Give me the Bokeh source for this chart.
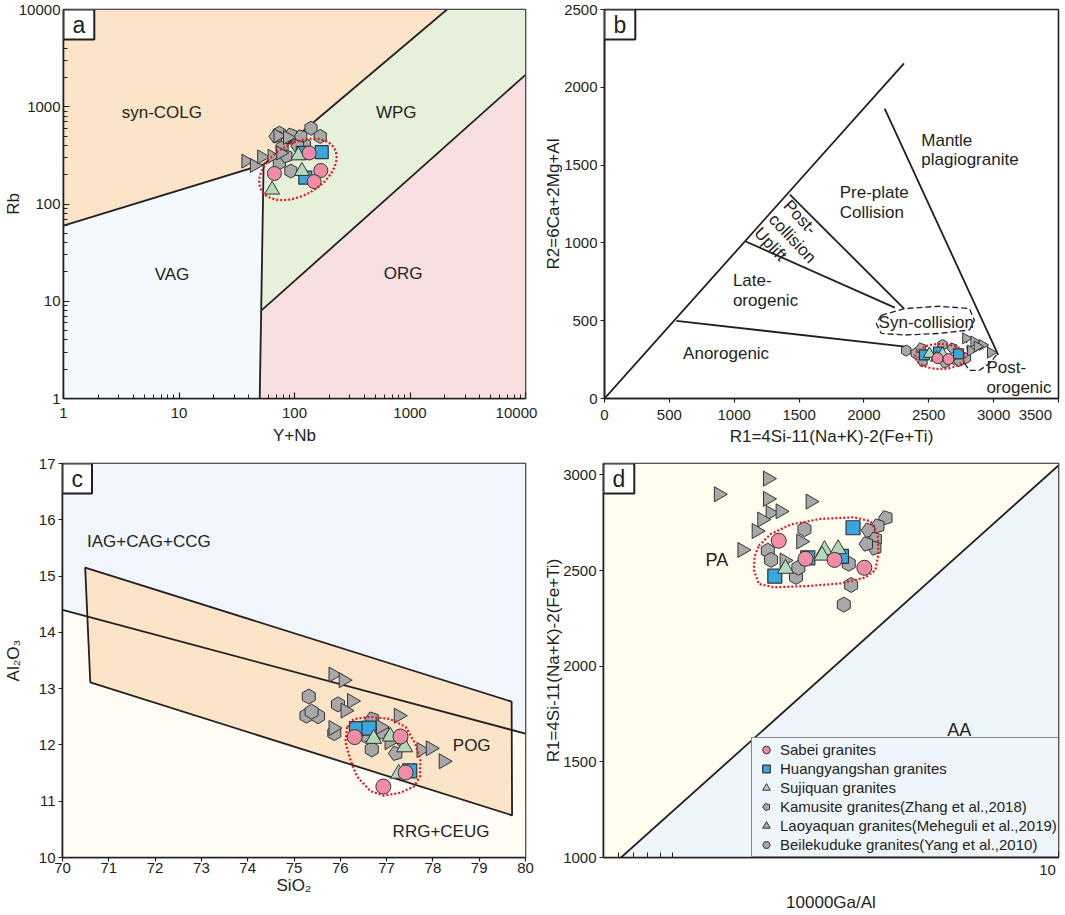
import numpy as np
from bokeh.plotting import figure
from bokeh.layouts import column, row
from bokeh.models import Range1d, FixedTicker, Label, Legend, LegendItem
from bokeh.core.properties import value
from bokeh.embed import file_html
from bokeh.resources import INLINE

FONT = "Liberation Sans"
INK = "#231f20"
PINK = "#f08ca6"
BLUE = "#3aa6de"
GREEN = "#b3dab8"
GRAY = "#a8a8a8"
EDGE = "#333333"
RED = "#e8141b"
NB = "\u00a0"

# ---------------- panel a : Rb vs Y+Nb ----------------
a_sabei_x = [134, 67, 169, 148]
a_sabei_y = [335, 206, 221, 170]
a_huang_x = [118, 172, 124]
a_huang_y = [335, 341, 187]
a_suji_x = [108, 116, 64]
a_suji_y = [315, 218, 140]
a_kamu_x = [93, 69, 114, 85, 107]
a_kamu_y = [514, 495, 495, 310, 392]
a_laoy_x = [38, 45, 52, 64, 72, 87, 76]
a_laoy_y = [276, 249, 305, 310, 503, 484, 335]
a_beil_x = [74, 139, 167, 93, 74, 78, 107, 122]
a_beil_y = [535, 601, 495, 218, 265, 377, 458, 407]
a_ticks = [1, 10, 100, 1000, 10000]
a_tick_labels = ["1", "10", "100", "1000", "10000"]
# field boundaries (Pearce et al. 1984)
a_colg_x = [1, 54, 2090, 1]
a_colg_y = [60, 255, 10000, 10000]
a_vag_x = [1, 50, 54, 1]
a_vag_y = [1, 1, 255, 60]
a_wpg_x = [54, 2090, 10000, 10000, 51.5]
a_wpg_y = [255, 10000, 10000, 2130, 8]
a_org_x = [50, 51.5, 10000, 10000]
a_org_y = [1, 8, 2130, 1]
a_lines = [([1, 54], [60, 255]), ([54, 2090], [255, 10000]),
           ([50, 54], [1, 255]), ([51.5, 10000], [8, 2130])]
a_text = ["syn-COLG", "WPG", "VAG", "ORG"]
a_text_x = [7.1, 760, 8.7, 870]
a_text_y = [870, 870, 19, 19.5]

# ---------------- panel b : R1-R2 ----------------
b_sabei_x = [2568, 2652]
b_sabei_y = [259, 253]
b_huang_x = [2466, 2729, 2575]
b_huang_y = [281, 287, 298]
b_suji_x = [2505, 2606, 2560]
b_suji_y = [287, 287, 262]
b_kamu_x = [2441, 2683, 2734, 2453, 2625]
b_kamu_y = [323, 323, 238, 238, 230]
b_laoy_x = [2786, 2849, 2913, 2977, 2824, 2875]
b_laoy_y = [387, 366, 344, 295, 308, 334]
b_beil_x = [2326, 2606, 2786, 2400, 2700]
b_beil_y = [308, 344, 259, 290, 250]
b_xticks = [0, 500, 1000, 1500, 2000, 2500, 3000, 3500]
b_yticks = [0, 500, 1000, 1500, 2000, 2500]
b_lines = [([0, 2309], [0, 2154]), ([2160, 3035], [1863, 280]),
           ([554, 2317], [499, 333]), ([1089, 2238], [1009, 584]),
           ([1429, 2309], [1310, 578])]
b_syn_x = [2134, 2317, 2578, 2813, 2852, 2813, 2578, 2317, 2134, 2095]
b_syn_y = [535, 578, 593, 578, 503, 440, 418, 408, 418, 482]
b_post_x = [2787, 2918, 3022, 2970, 2891, 2813, 2774, 2800]
b_post_y = [397, 355, 280, 227, 181, 181, 227, 291]
b_text = ["Mantle\nplagiogranite", "Pre-plate\nCollision", "Late-\norogenic",
          "Anorogenic", "Syn-collision", "Post-\norogenic"]
b_text_x = [2442, 1813, 990, 606, 2113, 2944]
b_text_y = [1597, 1257, 697, 291, 488, 132]

# ---------------- panel c : Al2O3 vs SiO2 ----------------
c_sabei_x = [76.31, 77.30, 77.41, 76.93]
c_sabei_y = [12.14, 12.15, 11.51, 11.26]
c_huang_x = [76.35, 76.62, 77.50]
c_huang_y = [12.29, 12.30, 11.54]
c_suji_x = [76.72, 77.08, 77.39, 77.26]
c_suji_y = [12.11, 12.15, 11.96, 11.49]
c_kamu_x = [76.69, 76.91, 77.20, 77.31, 76.55]
c_kamu_y = [12.46, 12.23, 11.85, 12.11, 12.17]
c_laoy_x = [75.85, 76.07, 76.25, 76.11, 75.85, 77.26, 76.87, 77.06, 77.75, 77.95, 78.23]
c_laoy_y = [13.25, 13.15, 12.78, 12.61, 12.30, 12.52, 12.32, 12.05, 11.91, 11.94, 11.71]
c_beil_x = [75.32, 75.95, 75.27, 75.52, 75.38, 75.87, 76.68]
c_beil_y = [12.86, 12.72, 12.52, 12.51, 12.59, 12.21, 11.92]
c_xticks = [70, 71, 72, 73, 74, 75, 76, 77, 78, 79, 80]
c_yticks = [10, 11, 12, 13, 14, 15, 16, 17]
c_blue_x = [70, 80, 80, 70]
c_blue_y = [14.40, 12.20, 17, 17]
c_cream_x = [70, 80, 80, 70]
c_cream_y = [10, 10, 12.20, 14.40]
c_pog_x = [70.49, 79.70, 79.71, 70.60]
c_pog_y = [15.15, 12.77, 10.75, 13.11]
c_mid_x = [70, 80]
c_mid_y = [14.40, 12.20]
c_ring_x = [76.15, 76.29, 76.65, 77.08, 77.41, 77.62, 77.73, 77.72, 77.59, 77.30,
            76.94, 76.65, 76.36, 76.22, 76.11]
c_ring_y = [12.32, 12.46, 12.50, 12.46, 12.32, 12.02, 11.73, 11.44, 11.26, 11.15,
            11.10, 11.18, 11.44, 11.73, 12.05]
c_text = ["IAG+CAG+CCG", "POG", "RRG+CEUG"]
c_text_x = [70.53, 78.43, 77.13]
c_text_y = [15.61, 11.99, 10.46]

# ---------------- panel d : R1 vs 10000Ga/Al ----------------
d_sabei_x = [3.115, 3.482, 3.93, 4.45]
d_sabei_y = [2656, 2562, 2556, 2515]
d_huang_x = [4.246, 3.516, 4.046, 3.064]
d_huang_y = [2724, 2567, 2574, 2471]
d_suji_x = [3.77, 3.99, 3.73, 3.204]
d_suji_y = [2608, 2613, 2579, 2510]
d_kamu_x = [4.87, 4.71, 4.53, 4.66, 4.65, 4.49]
d_kamu_y = [2776, 2733, 2711, 2664, 2618, 2639]
d_laoy_x = [2.976, 2.425, 2.976, 3.555, 3.009, 3.137, 2.906, 2.839, 2.675, 3.419, 3.19]
d_laoy_y = [2981, 2899, 2875, 2861, 2801, 2810, 2767, 2707, 2608, 2652, 2553]
d_beil_x = [3.467, 2.976, 3.017, 3.346, 3.38, 4.212, 4.085, 4.17]
d_beil_y = [2716, 2604, 2556, 2467, 2515, 2425, 2322, 2536]
d_yticks = [1000, 1500, 2000, 2500, 3000]
d_minor = [1.6, 1.7, 1.8, 1.9, 2, 3, 4, 5, 6, 7, 8, 9]
d_pa_x = [1.5, 1.614, 10, 10, 1.5]
d_pa_y = [1000, 1000, 3050, 3060, 3060]
d_aa_x = [1.614, 10, 10]
d_aa_y = [1000, 1000, 3050]
d_ring_x = [2.866, 3.009, 3.27, 3.707, 4.258, 4.564, 4.706, 4.72, 4.66, 4.47,
            4.03, 3.507, 3.052, 2.866, 2.808, 2.816]
d_ring_y = [2630, 2690, 2741, 2770, 2779, 2758, 2690, 2587, 2502, 2464,
            2433, 2419, 2413, 2430, 2502, 2574]
d_text = ["PA", "AA"]
d_text_x = [2.296, 6.29]
d_text_y = [2553, 1666]

legend_labels = ["Sabei granites", "Huangyangshan granites", "Sujiquan granites",
                 "Kamusite granites(Zhang et al.,2018)",
                 "Laoyaquan granites(Meheguli et al.,2019)",
                 "Beilekuduke granites(Yang et al.,2010)"]


def base_fig(w, h, xr, yr, bl, br, bt, bb, xlog=False, ylog=False):
    p = figure(width=w, height=h, x_range=Range1d(*xr), y_range=Range1d(*yr),
               x_axis_type="log" if xlog else "linear",
               y_axis_type="log" if ylog else "linear",
               min_border_left=bl, min_border_right=br, min_border_top=bt,
               min_border_bottom=bb, output_backend="svg", toolbar_location=None)
    p.xgrid.visible = False
    p.ygrid.visible = False
    p.outline_line_color = INK
    p.outline_line_width = 1.6
    p.background_fill_color = "white"
    p.border_fill_color = "white"
    return p


def style_axis(ax, title, tin, tout, mnin, mnout, standoff, label_standoff=3):
    ax.axis_label = title
    ax.axis_line_color = INK
    ax.axis_line_width = 1.6
    ax.major_tick_line_color = INK
    ax.major_tick_line_width = 1.2
    ax.major_tick_in = tin
    ax.major_tick_out = tout
    ax.minor_tick_line_color = INK
    ax.minor_tick_line_width = 1.0
    ax.minor_tick_in = mnin
    ax.minor_tick_out = mnout
    ax.major_label_text_font = FONT
    ax.major_label_text_font_size = "15px"
    ax.major_label_text_color = INK
    ax.major_label_standoff = label_standoff
    ax.axis_label_text_font = FONT
    ax.axis_label_text_font_size = "17px"
    ax.axis_label_text_font_style = "normal"
    ax.axis_label_text_color = INK
    ax.axis_label_standoff = standoff


def panel_letter(p, letter, x, y):
    kw = dict(x=x, y=y, text=letter, text_font=FONT, text_font_size="23px",
              text_color=INK, text_align="left", text_baseline="top",
              background_fill_color="white", background_fill_alpha=1.0,
              border_line_color=INK, border_line_width=2)
    try:
        lab = Label(padding=dict(left=9, right=9, top=2, bottom=2), **kw)
    except Exception:
        lab = Label(**kw)
    p.add_layout(lab)


def add_text(p, xs, ys, txt, size, align="center", angle=0.0):
    p.text(x=xs, y=ys, text=txt, text_font=value(FONT), text_font_size=size,
           text_color=INK, text_align=align, text_baseline="middle",
           text_line_height=1.05, angle=angle)


def pentagons(p, xs, ys, size):
    try:
        return p.ngon(x=xs, y=ys, radius=size / 2.0, radius_units="screen", n=5,
                      angle=np.pi / 2, fill_color=GRAY, line_color=EDGE, line_width=1)
    except Exception:
        return p.scatter(xs, ys, marker="hex", size=size, fill_color=GRAY,
                         line_color=EDGE, line_width=1)


def points(p, sabei, huang, suji, kamu, laoy, beil, s=15):
    r_beil = p.scatter(beil[0], beil[1], marker="hex", size=s, angle=np.pi / 6,
                       fill_color=GRAY, line_color=EDGE, line_width=1)
    r_kamu = pentagons(p, kamu[0], kamu[1], s)
    r_laoy = p.scatter(laoy[0], laoy[1], marker="triangle", size=s, angle=-np.pi / 2,
                       fill_color=GRAY, line_color=EDGE, line_width=1)
    r_huang = p.scatter(huang[0], huang[1], marker="square", size=s - 1,
                        fill_color=BLUE, line_color=EDGE, line_width=1.2)
    r_suji = p.scatter(suji[0], suji[1], marker="triangle", size=s + 1,
                       fill_color=GREEN, line_color=EDGE, line_width=1)
    r_sabei = p.scatter(sabei[0], sabei[1], marker="circle", size=s,
                        fill_color=PINK, line_color=EDGE, line_width=1)
    return [r_sabei, r_huang, r_suji, r_kamu, r_laoy, r_beil]


W1, W2 = 541, 523
H1, H2 = 455, 459

# ---------------- panel a ----------------
pa = base_fig(W1, H1, (1, 10000), (1, 10000), 62, 16, 9, 57, xlog=True, ylog=True)
a_minor = [k * 10 ** e for e in range(4) for k in range(2, 10)]
pa.xaxis.ticker = FixedTicker(ticks=a_ticks, minor_ticks=a_minor)
pa.yaxis.ticker = FixedTicker(ticks=a_ticks, minor_ticks=a_minor)
style_axis(pa.xaxis[0], "Y+Nb", 6, 0, 4, 0, 2, label_standoff=5)
style_axis(pa.yaxis[0], "Rb", 6, 0, 4, 0, -7)
xl = dict(zip(a_ticks, a_tick_labels))
xl[10000] = "10000" + NB
pa.xaxis.major_label_overrides = xl
pa.yaxis.major_label_overrides = dict(zip(a_ticks, a_tick_labels))
pa.patch(a_colg_x, a_colg_y, fill_color="#fce4c8", line_color=None)
pa.patch(a_vag_x, a_vag_y, fill_color="#f4f9fd", line_color=None)
pa.patch(a_wpg_x, a_wpg_y, fill_color="#e6f0da", line_color=None)
pa.patch(a_org_x, a_org_y, fill_color="#f8e0e0", line_color=None)
for lx, ly in a_lines:
    pa.line(lx, ly, line_color=INK, line_width=1.8)
add_text(pa, a_text_x, a_text_y, a_text, "17px")
points(pa, (a_sabei_x, a_sabei_y), (a_huang_x, a_huang_y), (a_suji_x, a_suji_y),
       (a_kamu_x, a_kamu_y), (a_laoy_x, a_laoy_y), (a_beil_x, a_beil_y), s=14)
pa.ellipse(x=[107], y=[227], width=84, height=52, angle=0.52,
           width_units="screen", height_units="screen", fill_alpha=0,
           line_color=RED, line_width=2.2, line_dash="2 2")
panel_letter(pa, "a", 1, 10000)

# ---------------- panel b ----------------
pb = base_fig(W2, H1, (0, 3500), (0, 2500), 62, 6, 9, 57)
pb.xaxis.ticker = FixedTicker(ticks=b_xticks, minor_ticks=[])
pb.yaxis.ticker = FixedTicker(ticks=b_yticks, minor_ticks=[])
style_axis(pb.xaxis[0], "R1=4Si-11(Na+K)-2(Fe+Ti)", 0, 4, 0, 0, 1)
style_axis(pb.yaxis[0], "R2=6Ca+2Mg+Al", 0, 4, 0, 0, -2)
pb.xaxis.major_label_overrides = {3500: "3500" + NB * 3}
for lx, ly in b_lines:
    pb.line(lx, ly, line_color=INK, line_width=1.8)
pb.patch(b_syn_x, b_syn_y, fill_alpha=0, line_color=INK, line_width=1.3, line_dash="6 3")
pb.patch(b_post_x, b_post_y, fill_alpha=0, line_color=INK, line_width=1.3, line_dash="6 3")
add_text(pb, b_text_x, b_text_y, b_text, "17px", align="left")
add_text(pb, [1290], [1170], ["Post-\ncollision\nUplift"], "17px", align="left", angle=-0.82)
points(pb, (b_sabei_x, b_sabei_y), (b_huang_x, b_huang_y), (b_suji_x, b_suji_y),
       (b_kamu_x, b_kamu_y), (b_laoy_x, b_laoy_y), (b_beil_x, b_beil_y), s=11)
pb.ellipse(x=[2589], y=[270], width=50, height=25, width_units="screen",
           height_units="screen", fill_alpha=0, line_color=RED, line_width=2.2,
           line_dash="2 2")
panel_letter(pb, "b", 0, 2500)

# ---------------- panel c ----------------
pc = base_fig(W1, H2, (70, 80), (10, 17), 62, 16, 8, 53)
pc.xaxis.ticker = FixedTicker(ticks=c_xticks, minor_ticks=[])
pc.yaxis.ticker = FixedTicker(ticks=c_yticks, minor_ticks=[])
style_axis(pc.xaxis[0], "SiO\u2082", 0, 4, 0, 0, 0, label_standoff=1)
style_axis(pc.yaxis[0], "Al\u2082O\u2083", 0, 4, 0, 0, 13)
pc.patch(c_blue_x, c_blue_y, fill_color="#f0f6fc", line_color=None)
pc.patch(c_cream_x, c_cream_y, fill_color="#fffcf5", line_color=None)
pc.patch(c_pog_x, c_pog_y, fill_color="#fce4c8", line_color=INK, line_width=1.8)
pc.line(c_mid_x, c_mid_y, line_color=INK, line_width=1.8)
add_text(pc, c_text_x, c_text_y, c_text, "17px", align="left")
points(pc, (c_sabei_x, c_sabei_y), (c_huang_x, c_huang_y), (c_suji_x, c_suji_y),
       (c_kamu_x, c_kamu_y), (c_laoy_x, c_laoy_y), (c_beil_x, c_beil_y), s=15)
pc.patch(c_ring_x, c_ring_y, fill_alpha=0, line_color=RED, line_width=2.2, line_dash="2 2")
panel_letter(pc, "c", 70, 17)

# ---------------- panel d ----------------
pd_ = base_fig(W2, H2, (1.5, 10), (1000, 3060), 62, 6, 8, 53, xlog=True)
pd_.xaxis.ticker = FixedTicker(ticks=[10], minor_ticks=d_minor)
pd_.yaxis.ticker = FixedTicker(ticks=d_yticks, minor_ticks=[])
style_axis(pd_.xaxis[0], "10000Ga/Al", 6, 0, 5, 0, 12)
style_axis(pd_.yaxis[0], "R1=4Si-11(Na+K)-2(Fe+Ti)", 0, 4, 0, 0, -3)
pd_.xaxis.major_label_overrides = {10: "10" + NB}
pd_.patch(d_pa_x, d_pa_y, fill_color="#fffdf0", line_color=None)
pd_.patch(d_aa_x, d_aa_y, fill_color="#eef5fb", line_color=None)
pd_.line([d_aa_x[0], d_aa_x[2]], [d_aa_y[0], d_aa_y[2]], line_color=INK, line_width=1.8)
add_text(pd_, d_text_x, d_text_y, d_text, "18px", align="left")
rends = points(pd_, (d_sabei_x, d_sabei_y), (d_huang_x, d_huang_y), (d_suji_x, d_suji_y),
               (d_kamu_x, d_kamu_y), (d_laoy_x, d_laoy_y), (d_beil_x, d_beil_y), s=15)
pd_.patch(d_ring_x, d_ring_y, fill_alpha=0, line_color=RED, line_width=2.2, line_dash="2 2")
legend = Legend(items=[LegendItem(label=l, renderers=[r]) for l, r in zip(legend_labels, rends)],
                location=(148, 0), margin=0, padding=2, spacing=0,
                glyph_width=24, glyph_height=19, label_height=19, label_standoff=2,
                label_text_font=FONT, label_text_font_size="15px", label_text_color=INK,
                border_line_color=INK, border_line_width=1.6,
                background_fill_color="#eef5fb", background_fill_alpha=1.0)
pd_.add_layout(legend)
panel_letter(pd_, "d", 1.5, 3060)

layout = column(row(pa, pb), row(pc, pd_))
open("out.html", "w").write(file_html(layout, INLINE))
